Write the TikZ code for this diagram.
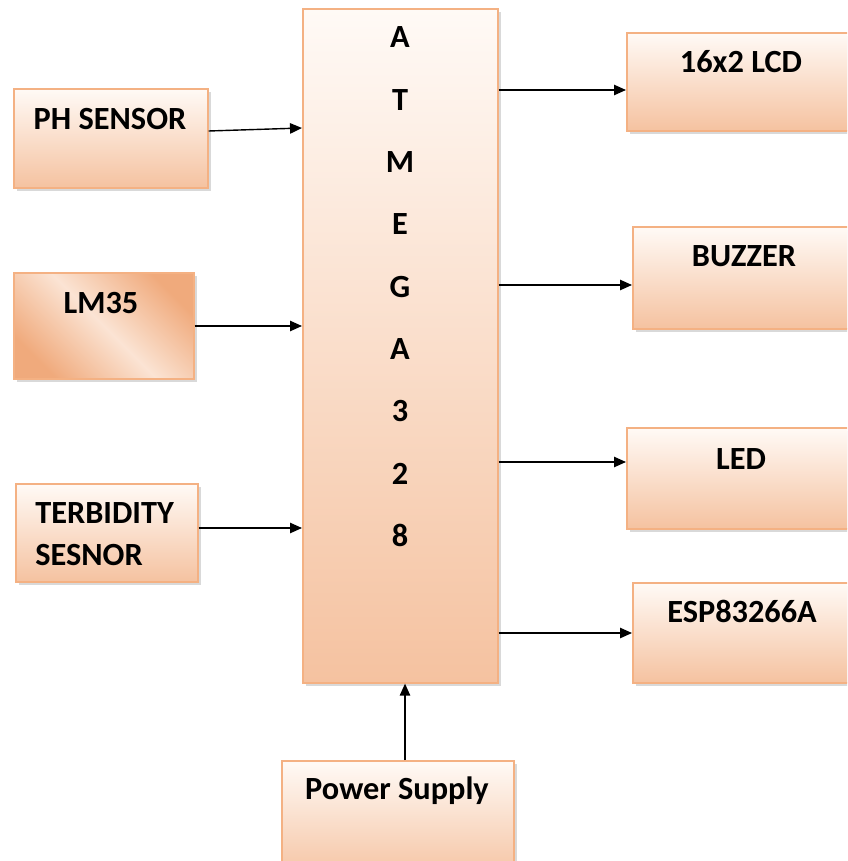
\documentclass[tikz,border=0pt]{standalone}
\usepackage{fontspec}
\setmainfont{Carlito}
\usetikzlibrary{arrows.meta,positioning,shadows}
\definecolor{boxEdge}{HTML}{F4B183}
\definecolor{boxFill}{HTML}{F5C2A0}
\definecolor{boxTop}{HTML}{FFFAF6}
\definecolor{boxDeep}{HTML}{F0AA7C}

\begin{document}
\begin{tikzpicture}[
    x=0.25mm,y=-0.25mm,
    >={Triangle[length=3mm,width=2.6mm]},
    blk/.style={rectangle,draw=boxEdge,line width=0.4mm,anchor=north west,inner sep=0pt,
                top color=boxTop,bottom color=boxFill,
                drop shadow={shadow xshift=0.7mm,shadow yshift=-0.7mm,opacity=0.3}},
    txt/.style={font=\fontsize{23}{28.5}\selectfont\bfseries,inner sep=0pt,anchor=base},
    arr/.style={->,line width=0.35mm}
  ]
  \useasboundingbox (0,0) rectangle (847,861);
  \clip (0,0) rectangle (847,861);
  %% Left: the sensors
  \node[blk,minimum width=48.5mm,minimum height=24.75mm] (ph) at (13,88) {};
  \node[blk,minimum width=45mm,minimum height=26.5mm,
        left color=boxDeep,right color=boxDeep,middle color=boxTop!60!boxFill,
        shading angle=135] (lm) at (13,272) {};
  \node[blk,minimum width=45.5mm,minimum height=24.5mm] (turb) at (15,483) {};
  \node[txt] (pht) at (110,130) {PH SENSOR};
  \node[txt] (lmt) at (101,313) {LM35};
  \node[txt,anchor=base west] (turbt1) at (35,523) {TERBIDITY};
  \node[txt,anchor=base west] (turbt2) at (35,565) {SESNOR};
  %% Middle: the controller and its supply
  \node[blk,minimum width=48.75mm,minimum height=168.5mm] (mcu) at (302,8) {};
  \foreach \c [count=\i] in {A,T,M,E,G,A,3,2,8}
    \node[txt] (mcu\i) at (400,{48+62.3*(\i-1)}) {\c};
  \node[blk,minimum width=58mm,minimum height=30mm] (psu) at (281,760) {};
  \node[txt] (psut) at (397,799) {Power Supply};
  %% Right: the outputs
  \node[blk,minimum width=60mm,minimum height=24.5mm] (lcd) at (626,32) {};
  \node[blk,minimum width=60mm,minimum height=25.5mm] (buz) at (632,226) {};
  \node[blk,minimum width=60mm,minimum height=25.25mm] (led) at (626,427) {};
  \node[blk,minimum width=60mm,minimum height=25mm] (esp) at (632,582) {};
  \node[txt] (lcdt) at (741,73) {16x2 LCD};
  \node[txt] (buzt) at (744,267) {BUZZER};
  \node[txt] (ledt) at (741,469) {LED};
  \node[txt] (espt) at (742,622) {ESP83266A};
  %% Connections
  \draw[arr] (ph.east |- 0,131) -- (mcu.west |- 0,128);
  \draw[arr] (lm.east |- 0,326) -- (mcu.west |- 0,326);
  \draw[arr] (turb.east |- 0,528) -- (mcu.west |- 0,528);
  \draw[arr] (mcu.east |- 0,90) -- (lcd.west |- 0,90);
  \draw[arr] (mcu.east |- 0,285) -- (buz.west |- 0,285);
  \draw[arr] (mcu.east |- 0,462) -- (led.west |- 0,462);
  \draw[arr] (mcu.east |- 0,633) -- (esp.west |- 0,633);
  \draw[arr] (psu.north -| 405,0) -- (mcu.south -| 405,0);
\end{tikzpicture}
\end{document}
